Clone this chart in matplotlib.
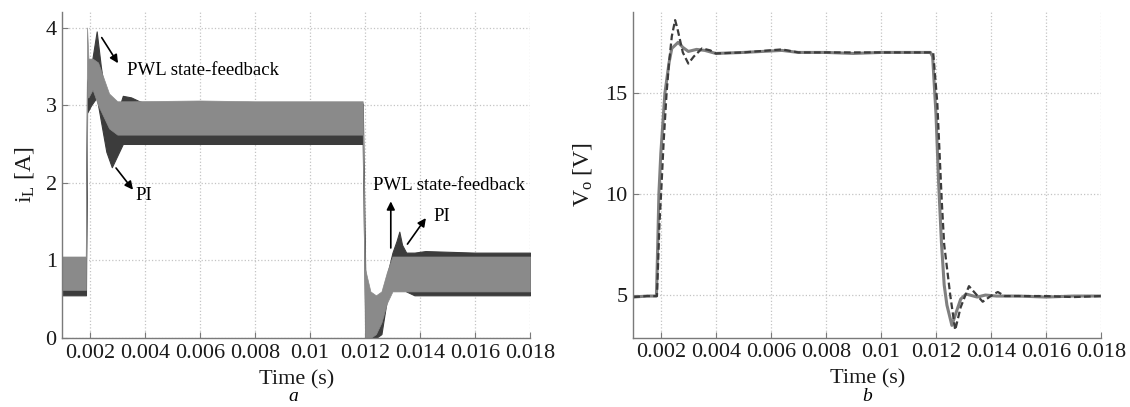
import numpy as np
import matplotlib
matplotlib.use('Agg')
import matplotlib.pyplot as plt
from matplotlib.ticker import FormatStrFormatter

plt.rcParams['font.family'] = ['Liberation Serif', 'DejaVu Serif']
plt.rcParams['mathtext.fontset'] = 'custom'
plt.rcParams['mathtext.rm'] = 'Liberation Serif'
plt.rcParams['mathtext.it'] = 'Liberation Serif:italic'
plt.rcParams['mathtext.default'] = 'regular'

# ---- panel a: inductor current, ripple envelopes ----
t_pi = [0.001, 0.00186, 0.0019, 0.00205, 0.00225, 0.0024, 0.0026, 0.0028, 0.003,
        0.0032, 0.0035, 0.0038, 0.0042, 0.006, 0.008, 0.010, 0.01192, 0.01202,
        0.0122, 0.0124, 0.0126, 0.0128, 0.0130, 0.01315, 0.01325, 0.01335, 0.0135,
        0.0138, 0.0142, 0.016, 0.018]
pi_upper = [1.02, 1.02, 3.3, 3.5, 3.95, 3.5, 3.0, 2.65, 2.9, 3.12, 3.1, 3.05, 3.0,
            3.02, 3.0, 3.02, 3.02, 0.6, 0.5, 0.45, 0.55, 0.8, 1.1, 1.25, 1.37, 1.2,
            1.1, 1.1, 1.12, 1.1, 1.1]
pi_lower = [0.55, 0.55, 2.9, 3.0, 3.1, 2.8, 2.4, 2.2, 2.35, 2.5, 2.5, 2.5, 2.5,
            2.5, 2.5, 2.5, 2.5, 0.0, 0.0, 0.0, 0.05, 0.5, 0.8, 0.95, 1.0, 0.9, 0.6,
            0.55, 0.55, 0.55, 0.55]

t_pwl = [0.001, 0.00186, 0.0019, 0.00195, 0.0021, 0.0023, 0.0025, 0.0027, 0.003,
         0.0035, 0.006, 0.008, 0.010, 0.01192, 0.0120, 0.0122, 0.0124, 0.0126,
         0.0128, 0.0130, 0.0132, 0.0135, 0.016, 0.018]
pwl_upper = [1.05, 1.05, 4.0, 3.6, 3.6, 3.55, 3.35, 3.15, 3.05, 3.05, 3.06, 3.05,
             3.05, 3.05, 0.9, 0.6, 0.55, 0.6, 0.85, 1.05, 1.05, 1.05, 1.05, 1.05]
pwl_lower = [0.62, 0.62, 3.1, 3.1, 3.2, 3.0, 2.85, 2.7, 2.62, 2.62, 2.62, 2.62,
             2.62, 2.62, 0.0, 0.0, 0.05, 0.2, 0.45, 0.6, 0.6, 0.6, 0.6, 0.6]

# ---- panel b: output voltage ----
t_vo_pwl = [0.001, 0.0015, 0.00184, 0.00187, 0.0019, 0.00193, 0.002, 0.0021, 0.00215,
            0.0023, 0.0024, 0.00263, 0.0028, 0.003, 0.0033, 0.0036, 0.004, 0.005,
            0.0064, 0.007, 0.008, 0.009, 0.010, 0.011, 0.0118, 0.01188, 0.0120,
            0.0121, 0.0122, 0.0123, 0.0124, 0.01258, 0.0127, 0.0129, 0.0131, 0.0135,
            0.0138, 0.0142, 0.015, 0.016, 0.017, 0.018]
vo_pwl = [4.9, 4.95, 4.95, 6.5, 8.2, 10.0, 12.0, 14.0, 15.0,
          16.5, 17.2, 17.5, 17.25, 17.05, 17.15, 17.1, 16.95, 17.0,
          17.1, 17.0, 17.0, 16.95, 17.0, 17.0, 17.0, 16.8, 14.0,
          10.5, 7.6, 5.5, 4.5, 3.5, 4.0, 4.8, 5.05, 4.9,
          5.0, 4.95, 4.95, 4.9, 4.95, 4.95]

t_vo_pi = [0.001, 0.0015, 0.00186, 0.0019, 0.00195, 0.00201, 0.0021, 0.00221, 0.0023,
           0.0024, 0.00252, 0.0026, 0.0028, 0.003, 0.0032, 0.0035, 0.0038, 0.004,
           0.005, 0.0064, 0.007, 0.008, 0.009, 0.010, 0.011, 0.0119, 0.01205, 0.01221,
           0.0123, 0.01252, 0.0127, 0.0129, 0.0132, 0.0137, 0.0141, 0.01425, 0.0145,
           0.015, 0.016, 0.017, 0.018]
vo_pi = [4.9, 4.95, 4.95, 6.5, 8.5, 10.0, 12.5, 15.0, 16.5,
         17.8, 18.6, 18.2, 17.0, 16.45, 16.8, 17.2, 17.1, 16.95,
         17.0, 17.15, 17.0, 17.0, 17.0, 17.0, 17.0, 17.0, 14.5, 9.7,
         7.5, 5.0, 3.27, 4.4, 5.44, 4.67, 5.05, 5.15, 4.95,
         4.95, 4.95, 4.9, 4.95]

x_ticks = [0.002, 0.004, 0.006, 0.008, 0.01, 0.012, 0.014, 0.016, 0.018]

W, H = 1130, 407
fig = plt.figure(figsize=(W / 100, H / 100), dpi=100)
axa = fig.add_axes([62.3 / W, (H - 338) / H, 467.7 / W, 326 / H])
axb = fig.add_axes([633.3 / W, (H - 337.5) / H, 467.7 / W, 325.5 / H])

dark = '#3c3c3c'
gray = '#8a8a8a'

axa.fill_between(t_pi, pi_lower, pi_upper, color=dark, lw=0.8, edgecolor=dark)
axa.fill_between(t_pwl, pwl_lower, pwl_upper, color=gray, lw=0.5, edgecolor=gray)

axb.plot(t_vo_pwl, vo_pwl, color='#808080', lw=2.2)
axb.plot(t_vo_pi, vo_pi, color=dark, lw=1.6, dashes=(3, 1.5))

for ax in (axa, axb):
    ax.set_xlim(0.001, 0.018)
    ax.set_xticks(x_ticks)
    ax.xaxis.set_major_formatter(FormatStrFormatter('%g'))
    ax.grid(True, color='#c4c4c4', linestyle=':', lw=0.9)
    ax.set_axisbelow(True)
    for s in ('top', 'right'):
        ax.spines[s].set_visible(False)
    for s in ('left', 'bottom'):
        ax.spines[s].set_color('#7a7a7a')
        ax.spines[s].set_linewidth(1.0)
    ax.tick_params(direction='in', length=4, color='#7a7a7a', labelsize=16,
                   labelcolor='#1a1a1a', pad=4)
    ax.set_xlabel('Time (s)', fontsize=16, color='#1a1a1a')
    ax.xaxis.set_label_coords(0.5, -0.098)
    ax.xaxis.label.set_va('top')

axa.set_ylim(0, 4.2)
axa.set_yticks([0, 1, 2, 3, 4])
axa.set_ylabel('i$_L$ [A]', fontsize=17, color='#1a1a1a')
axa.yaxis.set_label_coords(-0.08, 0.5)
axa.yaxis.label.set_va('center')

axb.set_ylim(2.9, 19)
axb.set_yticks([5, 10, 15])
axb.set_ylabel('V$_o$ [V]', fontsize=17, color='#1a1a1a')
axb.yaxis.set_label_coords(-0.1086, 0.5)
axb.yaxis.label.set_va('center')

# annotations (arrow heads point at the text)
arr = dict(arrowstyle='-|>', color='black', lw=1.2, mutation_scale=12, shrinkA=0, shrinkB=0)
axa.annotate('', xy=(0.003025, 3.54), xytext=(0.002433, 3.87), arrowprops=arr)
axa.text(0.00336, 3.45, 'PWL state-feedback', fontsize=13.5, va='center', ha='left')
axa.annotate('', xy=(0.00357, 1.91), xytext=(0.002953, 2.19), arrowprops=arr)
axa.text(0.00365, 1.83, 'PI', fontsize=13.5, va='center', ha='left')

axa.annotate('', xy=(0.01294, 1.76), xytext=(0.01294, 1.16), arrowprops=arr)
axa.text(0.01231, 1.97, 'PWL state-feedback', fontsize=13.5, va='center', ha='left')
axa.annotate('', xy=(0.014215, 1.545), xytext=(0.013545, 1.21), arrowprops=arr)
axa.text(0.0145, 1.57, 'PI', fontsize=13.5, va='center', ha='left')

fig.text(293 / W, 2 / H, 'a', fontsize=14, style='italic', ha='center', va='bottom')
fig.text(867 / W, 2 / H, 'b', fontsize=14, style='italic', ha='center', va='bottom')

fig.savefig('out.png', dpi=100)
